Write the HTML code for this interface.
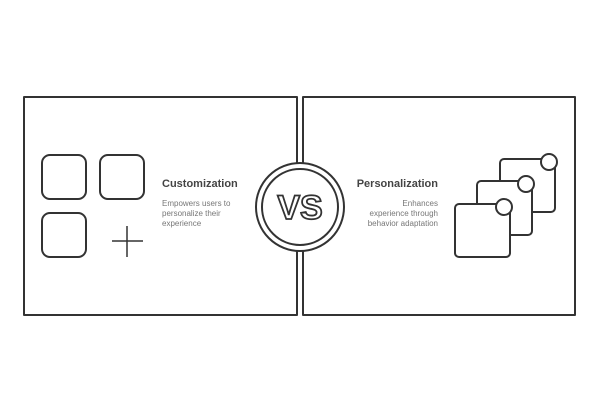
<!DOCTYPE html>
<html><head><style>body{margin:0;background:#fff}svg{display:block}</style></head><body>
<svg width="600" height="400" viewBox="0 0 600 400" xmlns="http://www.w3.org/2000/svg">
<g fill="none" stroke="#333" stroke-width="2" stroke-linejoin="round">
<rect x="24" y="97" width="273" height="218"/>
<rect x="303" y="97" width="272" height="218"/>
<circle cx="300" cy="207" r="44" fill="#fff"/>
<circle cx="300" cy="207" r="38"/>
<rect x="42" y="155" width="44" height="44" rx="8"/>
<rect x="100" y="155" width="44" height="44" rx="8"/>
<rect x="42" y="213" width="44" height="44" rx="8"/>
<path d="M112 241H143M127 226V257" stroke-width="1.5"/>
<rect x="500" y="159" width="55" height="53" rx="4" fill="#fff"/>
<circle cx="549" cy="162" r="8" fill="#fff"/>
<rect x="477" y="181" width="55" height="54" rx="4" fill="#fff"/>
<circle cx="526" cy="184" r="8" fill="#fff"/>
<rect x="455" y="204" width="55" height="53" rx="4" fill="#fff"/>
<circle cx="504" cy="207" r="8" fill="#fff"/>
</g>
<text x="300" y="219" text-anchor="middle" font-family="Liberation Sans, sans-serif" font-weight="bold" font-size="34" fill="#fff" stroke="#333" stroke-width="1.8">VS</text>
<g font-family="Liberation Sans, sans-serif">
<text x="162" y="187" font-size="11" font-weight="bold" fill="#444">Customization</text>
<g font-size="8" fill="#777"><text x="162" y="206">Empowers users to</text><text x="162" y="216">personalize their</text><text x="162" y="226">experience</text></g>
<text x="438" y="187" font-size="11" font-weight="bold" fill="#444" text-anchor="end">Personalization</text>
<g font-size="8" fill="#777" text-anchor="end"><text x="438" y="206">Enhances</text><text x="438" y="216">experience through</text><text x="438" y="226">behavior adaptation</text></g>
</g>
</svg>
</body></html>
